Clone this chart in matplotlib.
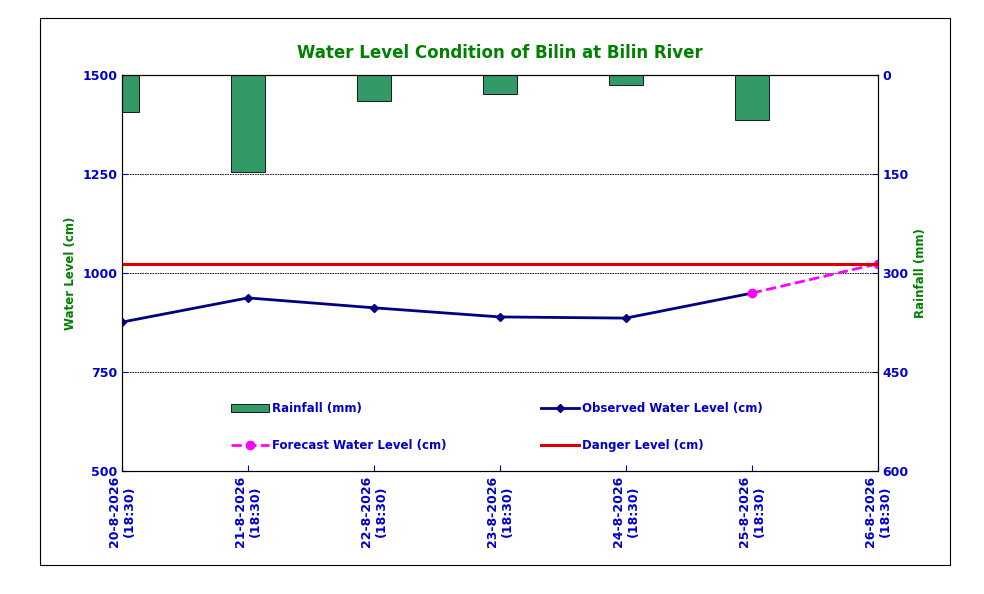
import matplotlib.pyplot as plt
from matplotlib.patches import Rectangle

dates = ['20-8-2026\n(18:30)', '21-8-2026\n(18:30)', '22-8-2026\n(18:30)', '23-8-2026\n(18:30)',
         '24-8-2026\n(18:30)', '25-8-2026\n(18:30)', '26-8-2026\n(18:30)']
observed = [876, 937, 912, 889, 886, 949]
forecast_x = [5, 6]
forecast = [949, 1023]
rainfall = [56, 147, 39, 29, 15, 68]
danger = 1022

fig = plt.figure(figsize=(9.84, 5.94), dpi=100)
fig.patches.append(Rectangle((40 / 984, 1 - 565 / 594), 910 / 984, 547 / 594,
                             transform=fig.transFigure, fill=False, edgecolor='black', lw=0.8))
ax = fig.add_axes([0.124, 0.207, 0.768, 0.667])
ax2 = ax.twinx()

x = list(range(len(dates)))
ax2.bar(x[:6], rainfall, width=0.27, color='#339966', edgecolor='black', lw=0.6, label='Rainfall (mm)')
ax2.set_ylim(600, 0)
ax2.set_yticks([0, 150, 300, 450, 600])

ax.set_zorder(ax2.get_zorder() + 1)
ax.patch.set_visible(False)
ax2.patch.set_facecolor('#CCFFFF')

ax.plot(x[:6], observed, color='#000080', lw=2, marker='D', ms=4, label='Observed Water Level (cm)')
ax.plot(forecast_x, forecast, color='#FF00FF', lw=2, ls='--', marker='o', ms=6, label='Forecast Water Level (cm)')
ax.axhline(danger, color='#DD0000', lw=2.2, label='Danger Level (cm)')
ax.set_ylim(500, 1500)
ax.set_xlim(0, 6)
ax.set_yticks([500, 750, 1000, 1250, 1500])
for v in [750, 1000, 1250, 1500]:
    ax.axhline(v, color='black', lw=0.6, ls=(0, (2, 1)), zorder=0)
ax.set_xticks(x)
ax.set_xticklabels(dates, rotation=90, ha='center', va='top', ma='center')

blue = '#0000CC'
for a in (ax, ax2):
    a.tick_params(colors=blue, labelsize=9, direction='in', length=4)
    for lab in a.get_xticklabels() + a.get_yticklabels():
        lab.set_fontweight('bold')
        lab.set_color(blue)
ax.set_ylabel('Water Level (cm)', color='green', fontweight='bold', fontsize=8.5)
ax2.set_ylabel('Rainfall (mm)', color='green', fontweight='bold', fontsize=8.5)
ax.set_title('Water Level Condition of Bilin at Bilin River', color='green', fontweight='bold', fontsize=12, pad=12)

h1, l1 = ax.get_legend_handles_labels()
h2, l2 = ax2.get_legend_handles_labels()
handles = [h2[0], h1[1], h1[0], h1[2]]
labels = [l2[0], l1[1], l1[0], l1[2]]
leg = ax.legend(handles, labels, ncol=2, frameon=False, loc='upper left', bbox_to_anchor=(0.13, 0.2),
                columnspacing=8, handlelength=3.2, handletextpad=0.3, labelspacing=2.0, fontsize=8.5)
for t in leg.get_texts():
    t.set_color(blue)
    t.set_fontweight('bold')

fig.savefig('out.png', dpi=100)
